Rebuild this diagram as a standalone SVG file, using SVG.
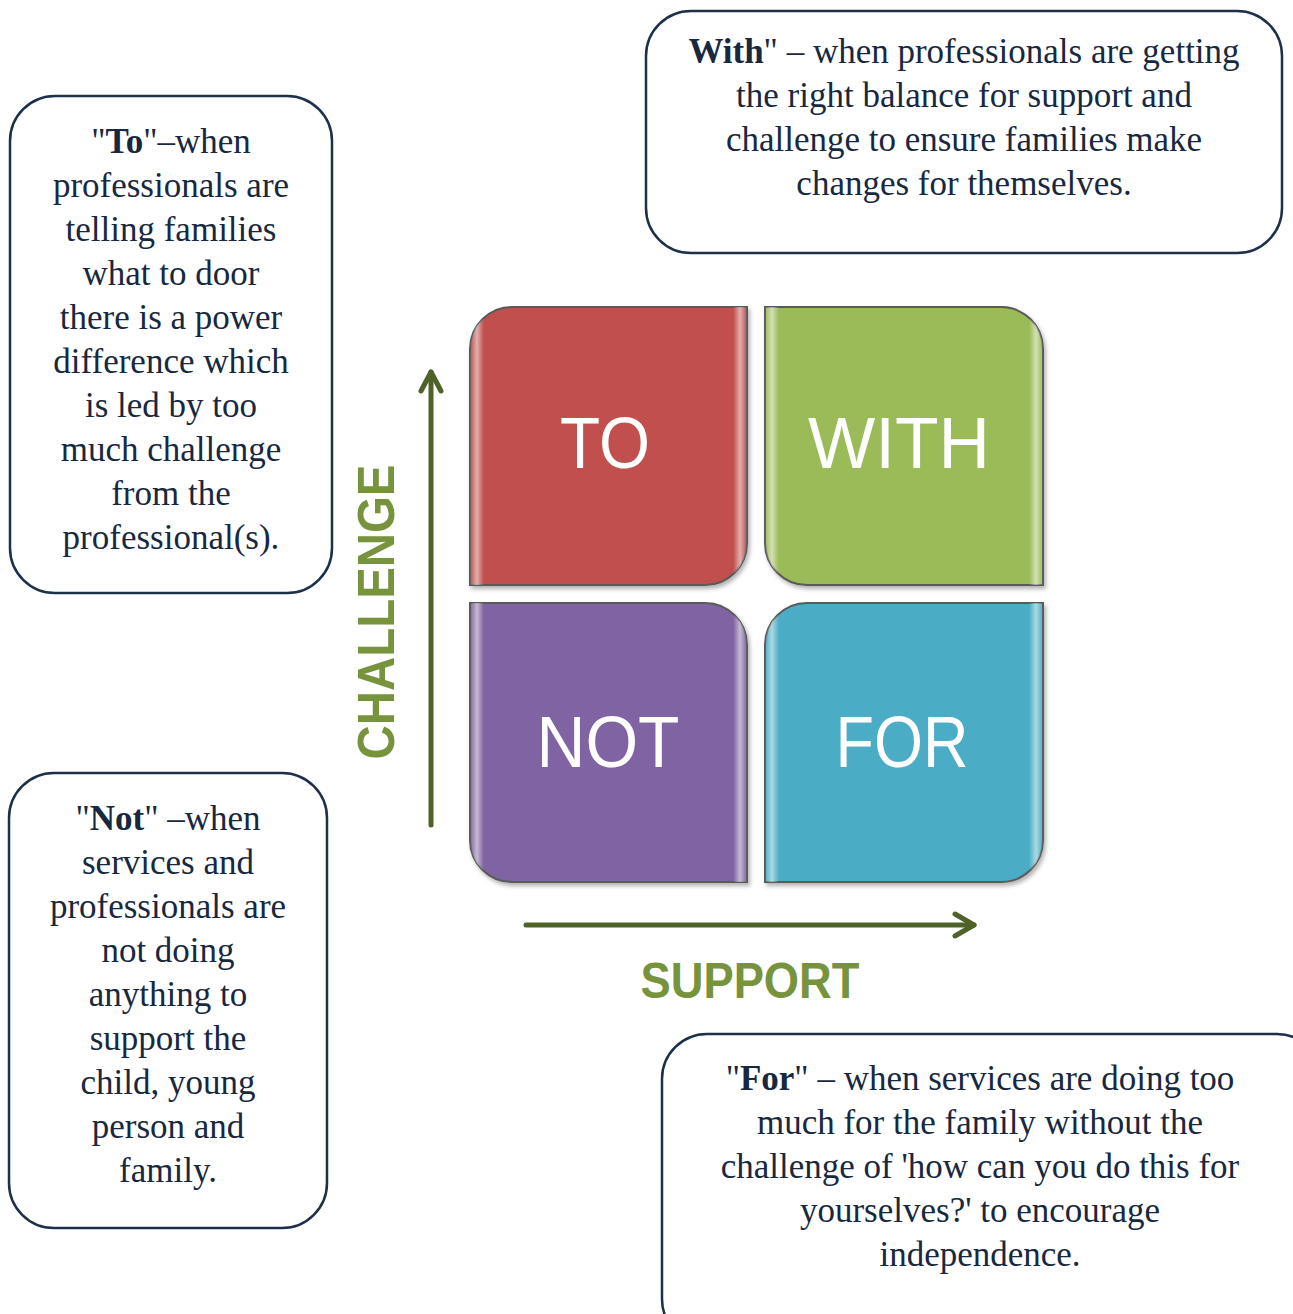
<svg xmlns="http://www.w3.org/2000/svg" width="1293" height="1314" viewBox="0 0 1293 1314">
<defs>
<style>
.box{fill:#ffffff;stroke:#1d3049;stroke-width:2.5}
.bt{font-family:"Liberation Serif","DejaVu Serif",serif;font-size:35px;fill:#17283f;text-anchor:middle}
.b{font-weight:bold}
.q{stroke:#5a5a5a;stroke-width:2}
.ql{font-family:"Liberation Sans",Arial,sans-serif;font-size:72px;fill:#ffffff;text-anchor:middle}
.ax{font-family:"Liberation Sans",Arial,sans-serif;font-weight:bold;fill:#77933c;text-anchor:middle}
.arr{stroke:#4f6228;stroke-width:5;fill:none;stroke-linecap:round;stroke-linejoin:round}
</style>
<linearGradient id="shine" x1="0" y1="0" x2="1" y2="0">
<stop offset="0" stop-color="#fff" stop-opacity="0"/>
<stop offset="0.025" stop-color="#fff" stop-opacity="0.55"/>
<stop offset="0.05" stop-color="#fff" stop-opacity="0"/>
<stop offset="0.95" stop-color="#fff" stop-opacity="0"/>
<stop offset="0.975" stop-color="#fff" stop-opacity="0.55"/>
<stop offset="1" stop-color="#fff" stop-opacity="0"/>
</linearGradient>
<filter id="sh" x="-5%" y="-5%" width="115%" height="115%">
<feDropShadow dx="2" dy="3" stdDeviation="2" flood-color="#000" flood-opacity="0.3"/>
</filter>
</defs>

<g id="box-to">
<rect class="box" x="10" y="96" width="322" height="497" rx="45"/>
<text class="bt" x="171" y="153">"<tspan class="b">To</tspan>"–when</text>
<text class="bt" x="171" y="197">professionals are</text>
<text class="bt" x="171" y="241">telling families</text>
<text class="bt" x="171" y="285">what to door</text>
<text class="bt" x="171" y="329">there is a power</text>
<text class="bt" x="171" y="373">difference which</text>
<text class="bt" x="171" y="417">is led by too</text>
<text class="bt" x="171" y="461">much challenge</text>
<text class="bt" x="171" y="505">from the</text>
<text class="bt" x="171" y="549">professional(s).</text>
</g>

<g id="box-with">
<rect class="box" x="646" y="11" width="636" height="242" rx="45"/>
<text class="bt" x="964" y="63"><tspan class="b">With</tspan>" – when professionals are getting</text>
<text class="bt" x="964" y="107">the right balance for support and</text>
<text class="bt" x="964" y="151">challenge to ensure families make</text>
<text class="bt" x="964" y="195">changes for themselves.</text>
</g>

<g id="box-not">
<rect class="box" x="9" y="773" width="318" height="455" rx="45"/>
<text class="bt" x="168" y="830">"<tspan class="b">Not</tspan>" –when</text>
<text class="bt" x="168" y="874">services and</text>
<text class="bt" x="168" y="918">professionals are</text>
<text class="bt" x="168" y="962">not doing</text>
<text class="bt" x="168" y="1006">anything to</text>
<text class="bt" x="168" y="1050">support the</text>
<text class="bt" x="168" y="1094">child, young</text>
<text class="bt" x="168" y="1138">person and</text>
<text class="bt" x="168" y="1182">family.</text>
</g>

<g id="box-for">
<rect class="box" x="662" y="1034" width="660" height="310" rx="45"/>
<text class="bt" x="980" y="1090">"<tspan class="b">For</tspan>" – when services are doing too</text>
<text class="bt" x="980" y="1134">much for the family without the</text>
<text class="bt" x="980" y="1178">challenge of 'how can you do this for</text>
<text class="bt" x="980" y="1222">yourselves?' to encourage</text>
<text class="bt" x="980" y="1266">independence.</text>
</g>

<g id="q-to">
<path class="q" filter="url(#sh)" fill="#c0504d" d="M512,307 H747 V543 A42,42 0 0 1 705,585 H470 V349 A42,42 0 0 1 512,307 Z"/>
<path fill="url(#shine)" d="M512,307 H747 V543 A42,42 0 0 1 705,585 H470 V349 A42,42 0 0 1 512,307 Z"/>
<text class="ql" x="605" y="468" textLength="90" lengthAdjust="spacingAndGlyphs">TO</text>
</g>

<g id="q-with">
<path class="q" filter="url(#sh)" fill="#9bbb59" d="M765,307 H1001 A42,42 0 0 1 1043,349 V585 H807 A42,42 0 0 1 765,543 Z"/>
<path fill="url(#shine)" d="M765,307 H1001 A42,42 0 0 1 1043,349 V585 H807 A42,42 0 0 1 765,543 Z"/>
<text class="ql" x="899" y="468" textLength="182" lengthAdjust="spacingAndGlyphs">WITH</text>
</g>

<g id="q-not">
<path class="q" filter="url(#sh)" fill="#8064a2" d="M470,603 H705 A42,42 0 0 1 747,645 V882 H512 A42,42 0 0 1 470,840 Z"/>
<path fill="url(#shine)" d="M470,603 H705 A42,42 0 0 1 747,645 V882 H512 A42,42 0 0 1 470,840 Z"/>
<text class="ql" x="608" y="767" textLength="143" lengthAdjust="spacingAndGlyphs">NOT</text>
</g>

<g id="q-for">
<path class="q" filter="url(#sh)" fill="#4bacc6" d="M807,603 H1043 V840 A42,42 0 0 1 1001,882 H765 V645 A42,42 0 0 1 807,603 Z"/>
<path fill="url(#shine)" d="M807,603 H1043 V840 A42,42 0 0 1 1001,882 H765 V645 A42,42 0 0 1 807,603 Z"/>
<text class="ql" x="902" y="767" textLength="133" lengthAdjust="spacingAndGlyphs">FOR</text>
</g>

<g id="connectors">
<line class="arr" x1="431" y1="825" x2="431" y2="372"/>
<polyline class="arr" points="421,391 431,372 441,391"/>
<line class="arr" x1="526" y1="925" x2="974" y2="925"/>
<polyline class="arr" points="955,914 974,925 955,936"/>
</g>

<g id="label-challenge">
<text class="ax" font-size="52" transform="translate(394,612) rotate(-90)" x="0" y="0" textLength="295" lengthAdjust="spacingAndGlyphs">CHALLENGE</text>
</g>
<g id="label-support">
<text class="ax" font-size="50" x="750" y="998" textLength="219" lengthAdjust="spacingAndGlyphs">SUPPORT</text>
</g>
</svg>
